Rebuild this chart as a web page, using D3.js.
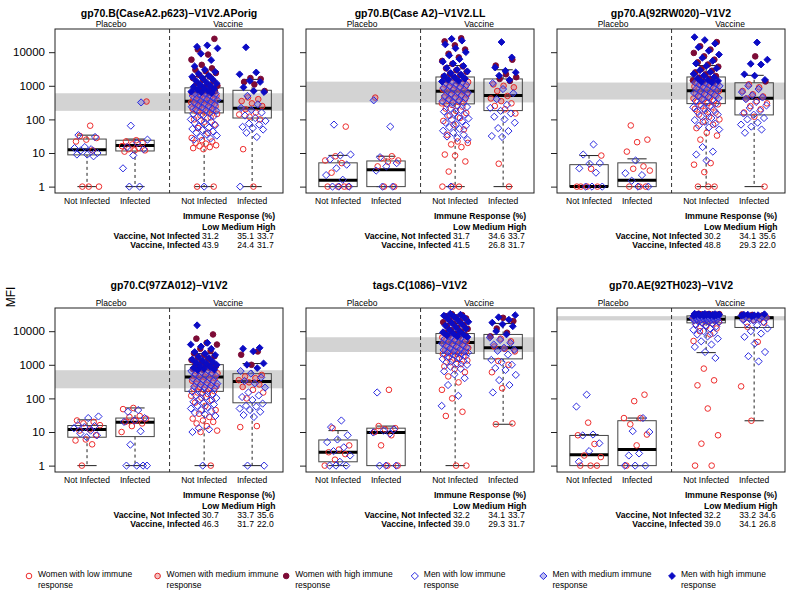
<!DOCTYPE html>
<html><head><meta charset="utf-8">
<script src="https://cdn.jsdelivr.net/npm/d3@7"></script>
<style>body{margin:0;background:#fff}</style>
</head><body><svg id="c" width="789" height="592"></svg>
<script>
// ---------------- DATA ----------------
const titles = ["gp70.B(CaseA2.p623)\u2212V1V2.APorig","gp70.B(Case A2)\u2212V1V2.LL","gp70.A(92RW020)\u2212V1V2",
                "gp70.C(97ZA012)\u2212V1V2","tags.C(1086)\u2212V1V2","gp70.AE(92TH023)\u2212V1V2"];
const groupLabels = ["Not Infected","Infected","Not Infected","Infected"];
const armLabels = ["Placebo","Vaccine"];
const yTicks = [1,10,100,1000,10000];
const legendLabels = ["Women with low immune response","Women with medium immune response","Women with high immune response",
                      "Men with low immune response","Men with medium immune response","Men with high immune response"];
// medium-response band (tertile cut-offs) per panel
const bandLo = [180, 320, 390, 200, 2400, 21000];
const bandHi = [600, 1330, 1250, 690, 6600, 28000];
const pctNotInf = [[31.2,35.1,33.7],[31.7,34.6,33.7],[30.2,34.1,35.6],[30.7,33.7,35.6],[32.2,34.1,33.7],[32.2,33.2,34.6]];
const pctInf    = [[43.9,24.4,31.7],[41.5,26.8,31.7],[48.8,29.3,22.0],[46.3,31.7,22.0],[39.0,29.3,31.7],[39.0,34.1,26.8]];
// box stats per group: [lower whisker, q1, median, q3, upper whisker]
const boxes1 = [[1,8.8,12.6,26,34],[1,11.5,16.6,24,26],[1,156,346,870,1900],[1,110,214,735,1550]];
const boxes2 = [[1,1,1.55,5.1,8.5],[1,1,3.2,5.8,8],[1,290,690,1830,4000],[1,183,510,1600,3000]];
const boxes3 = [[1,1,1,4.5,8.4],[1,1,1.54,5.1,6.7],[1,295,710,1830,4000],[1,136,425,1230,2050]];
const boxes4 = [[1,7,11.9,15.6,23],[1,7.3,19.6,26,52],[1,162,433,1010,2150],[1,74,320,545,1090]];
const boxes5 = [[1,1.3,2.5,5.8,11],[1,1,9.7,13,15],[1,2200,4600,8500,17000],[17,1500,3200,8000,17000]];
const boxes6 = [[1,1,2.1,7.9,8.4],[1,1,3.0,21.7,26],[2300,17700,22800,28600,33000],[21.6,12900,25000,26700,32000]];
// MFI values: [placebo not infected, placebo infected, vaccine not infected, vaccine infected]
const women1 = [
 [65,32,28,25,22,12,1,1,1],
 [340,24,22,20,18,16,14,13,12,12,11],
 [1,1,13,14,15,16,17,19,20,22,24,28,40,55,70,85,100,115,130,145,160,175,
  185,195,205,215,230,245,260,275,290,305,320,340,360,380,400,420,445,470,495,520,545,570,590,600,
  620,650,690,730,780,850,920,1000,1100,1200,1350,1500,1700,1900,2100,2400,2700,3000,3300,4200,6000,8500,12000,25000],
 [1,13,100,120,140,160,200,250,300,350,400,450,700,1100,1300,1600,1700]];
const men1 = [
 [34,30,15,14,13,12,10,9,9,8],
 [320,65,25,20,15,13,8.5,3.5,1,1],
 [1,25,27,30,33,36,40,44,48,52,57,62,67,72,78,85,92,100,108,117,126,136,146,158,172,
  182,190,200,212,225,238,252,268,285,300,318,336,355,375,398,420,445,470,500,530,560,585,595,598,
  610,640,670,710,760,810,870,940,1010,1090,1180,1280,1400,1550,1700,1850,2000,2300,2600,3000,3800,5800,9000,13000,16000,14500],
 [1,30,40,50,55,60,70,75,90,110,130,160,190,220,280,500,650,700,900,1300,1400,2200,2500,14000]];
const women2 = [
 [61,8,6,5,2.6,1,1,1,1],
 [445,8,7,6,5.5,4,1,1],
 [1,1,1,2.8,5.6,8.4,9,15,18,20,22,35,50,70,90,110,130,155,180,210,240,270,300,
  330,360,390,420,450,480,520,560,600,640,690,740,790,840,900,960,1020,1090,1160,1230,1300,
  1350,1450,1600,1750,1900,2100,2300,2600,2900,3300,3800,4500,5500,7000,9000,12000,16000,21000,26000],
 [1,4.8,150,200,250,300,350,420,500,700,900,1000,1100,1400,1600,1800,2200,4000,6000]];
const men2 = [
 [70,9,8.5,6.5,4.5,3.5,2.2,1.6,1,1,1],
 [370,61,7.5,5,4,3,1,1],
 [1,25,28,31,35,40,46,52,58,65,72,80,88,97,106,116,127,140,155,170,190,210,235,260,290,315,
  325,345,370,400,430,465,500,540,580,620,665,710,760,810,870,930,1000,1070,1140,1210,1280,1320,
  1340,1420,1520,1650,1800,1950,2150,2400,2700,3000,3400,3900,4600,5200,6200,8000,10000,13000,17000,22000,25000],
 [30,32,45,55,80,100,120,150,180,220,270,400,600,800,1200,1500,2000,2500,2800,3500,7000,20000]];
const women3 = [
 [8.4,3.4,1,1,1,1],
 [66,25,21,11,4,3.4,3,1,1,1],
 [1,1,1,2.7,4.5,5,25,33,40,55,70,85,100,120,140,160,180,205,230,255,280,310,340,370,
  395,420,450,480,510,545,580,620,660,700,745,790,840,890,950,1010,1070,1140,1200,1240,
  1270,1350,1450,1600,1750,1950,2200,2500,2800,3200,3700,4300,5000,6000,7500,9500,12000,15000,20000],
 [1,120,160,200,250,300,350,420,480,560,700,900,1100,1350,7500]];
const men3 = [
 [18,9,5,4.8,3.5,2.6,1,1,1],
 [6,2.5,2.2,1.5,1,1],
 [6,9,11,15,50,58,65,75,85,95,110,125,140,155,170,190,210,230,250,275,300,325,355,380,
  400,430,465,500,535,570,610,650,690,735,780,830,880,930,990,1050,1110,1170,1220,1245,
  1260,1320,1400,1500,1650,1800,2000,2250,2550,2900,3300,3900,4600,5500,6800,8500,11000,14000,18000,23000,28000],
 [40,50,61,70,80,100,110,138,150,180,220,260,330,400,450,520,650,800,1000,1500,2000,2200,4300,4500,6000,19500]];
const women4 = [
 [22,20,18,16,12,11,8,6,5.6,4.3,1],
 [52,48,30,28,25,22,20,18,15,10],
 [1,10,11,15,18,20,22,25,28,35,45,60,75,90,105,120,135,150,165,180,195,
  205,220,235,250,270,290,310,335,360,385,410,440,470,500,530,560,600,640,680,
  700,740,790,850,920,1000,1080,1170,1270,1380,1500,1650,1800,2000,2200,2600,3000,4000,4500,6000,8000],
 [14,15,100,150,180,220,260,300,350,400,450,500,1000,2000,2500]];
const men4 = [
 [29,26,16,15,14,13,11,9,8,7],
 [45,40,26,22,20,10.5,4.2,1,1,1,1],
 [1,10,12,13,30,33,37,41,45,50,55,60,66,72,79,86,94,102,112,123,135,148,162,178,192,
  202,215,228,242,258,275,295,315,338,362,388,415,445,475,505,540,575,610,650,685,
  695,720,760,810,870,930,1000,1070,1150,1240,1340,1450,1600,1750,1950,2150,2400,3000,3500,4000,4500,15000],
 [1,1,28,32,40,45,50,57,60,70,90,110,122,150,210,280,330,420,550,650,800,1000,1100,2500,3000,3200]];
const women5 = [
 [13,4,3,2.5,2.2,1.5,1],
 [180,15,13,12,10,8,4,1,1],
 [1,1,30,40,100,180,300,450,600,750,900,1050,1200,1350,1500,1650,1800,1950,2100,2250,2350,
  2450,2550,2700,2850,3000,3200,3400,3600,3800,4000,4250,4500,4800,5100,5400,5700,6000,6300,6550,
  6800,7200,7700,8300,9000,9800,10700,11700,12800,14000,15500,17000,18500,20000,22000,24000,26000,28000,30000,32000],
 [17,18,200,600,1000,1300,2500,3000,3500,5000,6000,7000,9000,12000,20000,25000]];
const men5 = [
 [22,14,8,6,5,3.5,2.7,2,1.3,1,1,1],
 [150,12,11,9.7,9,1,1,1],
 [60,120,250,400,520,640,760,880,1000,1100,1200,1300,1400,1500,1600,1700,1800,1900,2000,2100,2200,2300,2380,
  2420,2500,2620,2780,2940,3100,3300,3500,3700,3900,4150,4400,4650,4950,5250,5550,5850,6150,6450,
  6700,7000,7500,8000,8600,9300,10000,11000,12000,13300,14700,16000,17500,19000,21000,23000,25000,27000,29000,31000,33000],
 [150,250,350,500,700,800,1000,1200,1400,2000,2600,2800,3200,4000,4500,5500,6500,8000,10000,14000,16000,18000,22000,26000,30000]];
const women6 = [
 [19,8,4.4,2,1.8,1,1,1],
 [129,83,26,26,17,8.4,4,1],
 [1,1,4.5,8,50,245,345,770,5100,8000,10000,12000,14000,15500,17000,18000,19000,19800,20500,
  21000,21400,21800,22200,22600,23000,23400,23800,24200,24600,25000,25400,25800,26200,26600,27000,27400,27800,
  28100,28300,28600,28900,29200,29500,29800,30100,30400,30700,31000,31400,31800,32200,32600,33000],
 [21.6,228,4800,13500,18000,21500,22500,23500,24500,25500,26500,28500,29500,30500,31500]];
const men6 = [
 [129,57,8.4,7.9,4.6,2.7,1.3],
 [26,10.6,10,2.3,2,1,1,1],
 [1600,2400,3400,4000,5000,6000,7000,8000,9000,10000,11000,12000,13000,14000,15000,16000,17000,17700,18400,19000,19600,20200,20800,
  21100,21500,21900,22300,22700,23100,23500,23900,24300,24700,25100,25500,25900,26300,26700,27100,27500,27900,
  28000,28200,28500,28800,29100,29400,29700,30000,30300,30600,30900,31200,31600,32000,32400,32800,33200],
 [1260,1800,2400,4300,6800,8500,10000,12000,15000,17000,19000,21000,22000,23000,24000,25000,26000,27000,27500,28200,29000,30000,31000,32000,29800,30800]];

const womenAll = [women1,women2,women3,women4,women5,women6];
const menAll = [men1,men2,men3,men4,men5,men6];
const boxesAll = [boxes1,boxes2,boxes3,boxes4,boxes5,boxes6];

// ---------------- LAYOUT ----------------
const FONT = "'Liberation Sans', Arial, Helvetica, sans-serif";
const svg = d3.select("#c").style("font-family", FONT);
const panelLeft = [55, 306, 557];
const rowTop = [29, 308];
const pw = 228, ph = 164;
const xPos = [1, 2, 3.44, 4.44];
const x = d3.scaleLinear().domain([0.333, 5.083]).range([0, pw]);
const y = d3.scaleLog().domain([Math.pow(10,-0.19), Math.pow(10,4.69)]).range([ph, 0]);
const bw = x(1.4) - x(0.6);

const styles = {
  W: [{s:"#ee2c2c", f:"none", o:1}, {s:"#e02a2a", f:"#e87070", o:0.45}, {s:"#7d0b36", f:"#7d0b36", o:1}],
  M: [{s:"#2b2be0", f:"none", o:1}, {s:"#2b2be0", f:"#7070e0", o:0.45}, {s:"#0b0bc4", f:"#0b0bc4", o:1}]
};
function drawMarker(g, cx, cy, sex, lvl) {
  const st = styles[sex][lvl];
  if (sex === "W") {
    g.append("circle").attr("cx", cx).attr("cy", cy).attr("r", 2.8)
      .attr("fill", st.f).attr("fill-opacity", st.o).attr("stroke", st.s).attr("stroke-width", 1);
  } else {
    const r = lvl === 2 ? 3.4 : 3.6;
    g.append("path").attr("d", `M${cx},${cy-r}L${cx+r},${cy}L${cx},${cy+r}L${cx-r},${cy}Z`)
      .attr("fill", st.f).attr("fill-opacity", st.o).attr("stroke", st.s).attr("stroke-width", 1);
  }
}

for (let i = 0; i < 6; i++) {
  const col = i % 3, row = Math.floor(i / 3);
  const g = svg.append("g").attr("transform", `translate(${panelLeft[col]},${rowTop[row]})`);
  const lvlOf = v => v < bandLo[i] ? 0 : (v <= bandHi[i] ? 1 : 2);

  // band
  g.append("rect").attr("x", 0).attr("width", pw)
    .attr("y", y(bandHi[i])).attr("height", y(bandLo[i]) - y(bandHi[i]))
    .attr("fill", "#d3d3d3");

  // boxes
  boxesAll[i].forEach((b, j) => {
    const cx = x(xPos[j]);
    const [lo, q1, med, q3, hi] = b;
    g.append("line").attr("x1", cx).attr("x2", cx).attr("y1", y(q3)).attr("y2", y(hi))
      .attr("stroke", "#222").attr("stroke-dasharray", "3,3");
    g.append("line").attr("x1", cx).attr("x2", cx).attr("y1", y(q1)).attr("y2", y(lo))
      .attr("stroke", "#222").attr("stroke-dasharray", "3,3");
    [lo, hi].forEach(v => g.append("line").attr("x1", cx - bw/4).attr("x2", cx + bw/4)
      .attr("y1", y(v)).attr("y2", y(v)).attr("stroke", "#222"));
    g.append("rect").attr("x", cx - bw/2).attr("width", bw).attr("y", y(q3)).attr("height", y(q1) - y(q3))
      .attr("fill", "none").attr("stroke", "#444").attr("stroke-width", 1);
    g.append("line").attr("x1", cx - bw/2).attr("x2", cx + bw/2).attr("y1", y(med)).attr("y2", y(med))
      .attr("stroke", "#000").attr("stroke-width", 3);
  });

  // points
  for (let j = 0; j < 4; j++) {
    const pts = womenAll[i][j].map(v => ({v, s:"W"})).concat(menAll[i][j].map(v => ({v, s:"M"})));
    pts.forEach((p, k) => {
      const frac = ((k + 1) * 0.6180339887 + j * 0.31 + i * 0.17) % 1;
      const dx = (frac - 0.5) * 0.56;
      drawMarker(g, x(xPos[j] + dx), y(p.v), p.s, lvlOf(p.v));
    });
  }

  // divider
  g.append("line").attr("x1", x(2.72)).attr("x2", x(2.72)).attr("y1", 0).attr("y2", ph)
    .attr("stroke", "#333").attr("stroke-dasharray", "4,3");

  // y axis
  const ax = d3.axisLeft(y).tickValues(yTicks).tickSize(6).tickSizeOuter(0).tickPadding(4)
    .tickFormat(col === 0 ? d3.format("d") : () => "");
  const ag = g.append("g").call(ax);
  ag.select(".domain").remove();
  ag.selectAll(".tick line").attr("stroke", "#222");
  ag.selectAll(".tick text").attr("fill", "#000").style("font-size", "11.5px").style("font-family", FONT);

  // frame
  g.append("rect").attr("width", pw).attr("height", ph).attr("fill", "none").attr("stroke", "#222");

  // title and arm labels
  g.append("text").attr("x", pw/2).attr("y", row === 0 ? -12.5 : -19).attr("text-anchor", "middle")
    .style("font-weight", "bold").style("font-size", "10.5px").text(titles[i]);
  armLabels.forEach((t, a) => g.append("text").attr("x", x(a === 0 ? 1.5 : 3.94)).attr("y", -2.5)
    .attr("text-anchor", "middle").style("font-size", "8.5px").text(t));
  groupLabels.forEach((t, j) => g.append("text").attr("x", x(xPos[j])).attr("y", ph + 10.5)
    .attr("text-anchor", "middle").style("font-size", "8.5px").text(t));

  // table
  const tb = g.append("g").style("font-size", "8.6px");
  tb.append("text").attr("x", 174).attr("y", ph + 26).attr("text-anchor", "middle")
    .style("font-weight", "bold").text("Immune Response (%)");
  tb.append("text").attr("x", 147).attr("y", ph + 36.5).style("font-weight", "bold").text("Low Medium High");
  [["Vaccine, Not Infected", pctNotInf[i]], ["Vaccine, Infected", pctInf[i]]].forEach((r, k) => {
    const yy = ph + 46 + k * 9;
    tb.append("text").attr("x", 145).attr("y", yy).attr("text-anchor", "end").style("font-weight", "bold").text(r[0]);
    tb.append("text").attr("x", 147).attr("y", yy).text(r[1][0].toFixed(1));
    tb.append("text").attr("x", 199).attr("y", yy).attr("text-anchor", "end").text(r[1][1].toFixed(1));
    tb.append("text").attr("x", 202).attr("y", yy).text(r[1][2].toFixed(1));
  });
}

// y label
svg.append("text").attr("transform", "translate(15,297) rotate(-90)").attr("text-anchor", "middle")
  .style("font-size", "12px").text("MFI");

// legend
const lg = svg.append("g").style("font-size", "8.5px");
legendLabels.forEach((t, k) => {
  const mx = 29 + k * 128.6;
  const sex = k < 3 ? "W" : "M";
  drawMarker(lg, mx, 576, sex, k % 3);
  const words = t.split(" ");
  const l1 = words.slice(0, -1).join(" "), l2 = words[words.length - 1];
  lg.append("text").attr("x", mx + 9).attr("y", 577).text(l1);
  lg.append("text").attr("x", mx + 9).attr("y", 587.5).text(l2);
});
</script>
</body></html>
